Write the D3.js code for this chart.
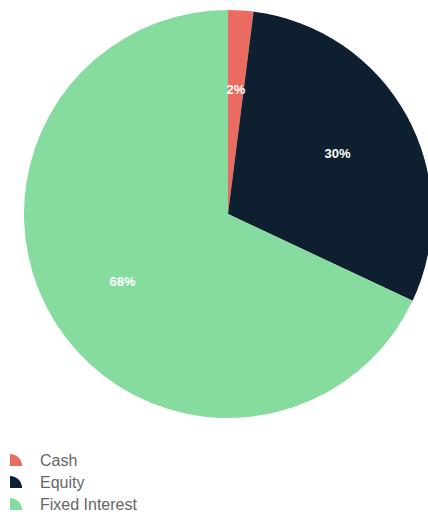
<!DOCTYPE html>
<html>
<head>
<meta charset="utf-8">
<script src="https://cdn.jsdelivr.net/npm/d3@7"></script>
<style>
  html, body { margin: 0; padding: 0; background: #fff; }
  svg { display: block; }
</style>
</head>
<body>
<div id="chart"></div>
<script>
const width = 428;
const height = 514;

// data
const categories = ["Cash", "Equity", "Fixed Interest"];
const shares = [2, 30, 68];
const palette = ["#ea6b60", "#0e1f2f", "#86dc9f"];

const data = categories.map((c, i) => ({ name: c, value: shares[i] }));

const cx = 228, cy = 214, radius = 204;

const svg = d3.select("#chart").append("svg")
  .attr("width", width)
  .attr("height", height)
  .attr("viewBox", [0, 0, width, height]);

const color = d3.scaleOrdinal().domain(categories).range(palette);

const pie = d3.pie()
  .value(d => d.value)
  .sort(null);

const arc = d3.arc().innerRadius(0).outerRadius(radius);
const labelArc = d3.arc().innerRadius(125).outerRadius(125);

const g = svg.append("g").attr("transform", `translate(${cx},${cy})`);

const arcs = pie(data);

g.selectAll("path")
  .data(arcs)
  .join("path")
  .attr("d", arc)
  .attr("fill", d => color(d.data.name));

g.selectAll("text")
  .data(arcs)
  .join("text")
  .attr("transform", d => `translate(${labelArc.centroid(d)})`)
  .attr("text-anchor", "middle")
  .attr("dy", "0.35em")
  .attr("fill", "#fff")
  .attr("font-family", "Liberation Sans, Arial, sans-serif")
  .attr("font-weight", "bold")
  .attr("font-size", "13px")
  .text(d => `${d.data.value}%`);

// legend with quarter-circle swatches
const legendY = d3.scalePoint()
  .domain(categories)
  .range([466, 510]);

const swatch = d3.arc()
  .innerRadius(0)
  .outerRadius(12)
  .startAngle(0)
  .endAngle(Math.PI / 2);

const legend = svg.append("g").attr("class", "legend");

const item = legend.selectAll("g")
  .data(categories)
  .join("g")
  .attr("transform", d => `translate(10,${legendY(d)})`);

item.append("path")
  .attr("d", swatch)
  .attr("fill", d => color(d));

item.append("text")
  .attr("x", 30)
  .attr("y", 0)
  .attr("fill", "#666")
  .attr("font-family", "Liberation Sans, Arial, sans-serif")
  .attr("font-size", "16px")
  .text(d => d);
</script>
</body>
</html>
